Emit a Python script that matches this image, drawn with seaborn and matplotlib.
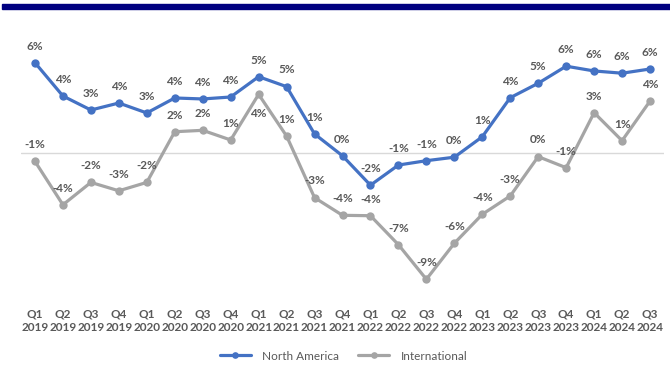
import matplotlib
matplotlib.use("Agg")
import matplotlib.pyplot as plt
import seaborn as sns
import pandas as pd
from matplotlib.patches import Rectangle

quarters = ["Q1", "Q2", "Q3", "Q4"] * 5 + ["Q1", "Q2", "Q3"]
years = ["2019"] * 4 + ["2020"] * 4 + ["2021"] * 4 + ["2022"] * 4 + ["2023"] * 4 + ["2024"] * 3
tick_labels = [f"{q}\n{y}" for q, y in zip(quarters, years)]

north_america = [6.45, 4.07, 3.07, 3.57, 2.86, 3.93, 3.86, 4.0, 5.45, 4.74, 1.36, -0.2,
                 -2.3, -0.86, -0.55, -0.3, 1.16, 3.95, 4.98, 6.2, 5.86, 5.7, 6.0]
international = [-0.6, -3.7, -2.1, -2.7, -2.1, 1.52, 1.62, 0.93, 4.19, 1.21, -3.19, -4.45,
                 -4.48, -6.55, -9.02, -6.45, -4.38, -3.07, -0.26, -1.05, 2.88, 0.88, 3.71]

series_names = ["North America", "International"]
colors = {"North America": "#4472C4", "International": "#A5A5A5"}

n = len(tick_labels)
df = pd.DataFrame({
    "idx": list(range(n)) * 2,
    "value": north_america + international,
    "region": [series_names[0]] * n + [series_names[1]] * n,
})

sns.set_theme(style="white")
plt.rcParams["font.family"] = ["Lato", "DejaVu Sans"]

fig = plt.figure(figsize=(6.7, 3.65), dpi=100)
ax = fig.add_axes([21 / 670, 1 - 300 / 365, 643 / 670, 252 / 365])

# top navy band
fig.patches.append(Rectangle((2 / 670, 1 - 8.5 / 365), 668 / 670, 4.5 / 365,
                             transform=fig.transFigure, color="#000080", zorder=5))

ax.axhline(0, color="#D9D9D9", lw=1, zorder=0)

sns.lineplot(data=df, x="idx", y="value", hue="region", hue_order=series_names,
             palette=colors, marker="o", markersize=6, markeredgewidth=0,
             linewidth=2.3, ax=ax, legend=True)

label_color = "#595959"
# labels placed below their point (to avoid overlapping the other series)
labels_below = {("International", 8)}
for name, vals in zip(series_names, (north_america, international)):
    for i, v in enumerate(vals):
        dy = -14 if (name, i) in labels_below else 12
        ax.annotate(f"{int(round(v))}%", (i, v), xytext=(0, dy), textcoords="offset points",
                    ha="center", va="center", fontsize=8.5, fontweight="bold", color=label_color)

ax.set_xlim(-0.5, n - 0.5)
ax.set_ylim(-10.5, 7.5)
ax.set_xticks(range(n))
ax.set_xticklabels(tick_labels, fontsize=8.5, fontweight="bold", color=label_color, linespacing=1.25)
ax.set_yticks([])
ax.set_xlabel("")
ax.set_ylabel("")
ax.tick_params(axis="x", length=0, pad=6)
for s in ax.spines.values():
    s.set_visible(False)

handles, labels = ax.get_legend_handles_labels()
ax.get_legend().remove()
fig.legend(handles, labels, loc="center", bbox_to_anchor=(0.513, 9 / 365), ncol=2,
           frameon=False, fontsize=8.5, handlelength=2.6, handletextpad=1.0,
           columnspacing=1.6, labelcolor=label_color, markerscale=0.8)

fig.savefig("out.png", dpi=100)
